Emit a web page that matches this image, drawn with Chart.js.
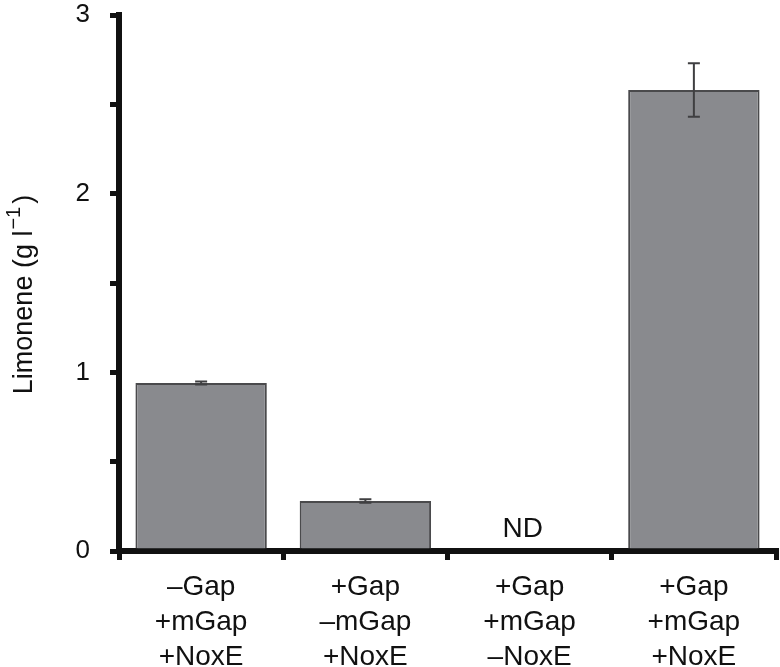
<!DOCTYPE html>
<html>
<head>
<meta charset="utf-8">
<script src="https://cdn.jsdelivr.net/npm/chart.js@4"></script>
<style>
  html, body { margin: 0; padding: 0; background: #fff; }
  #wrap { width: 780px; height: 667px; }
</style>
</head>
<body>
<div id="wrap"><canvas id="limoneneChart" width="780" height="667"></canvas></div>
<script>
const categories = [
    ['\u2013Gap', '+mGap', '+NoxE'],
    ['+Gap', '\u2013mGap', '+NoxE'],
    ['+Gap', '+mGap', '\u2013NoxE'],
    ['+Gap', '+mGap', '+NoxE']
];
const limonene = [0.94, 0.28, 0, 2.58];
const limoneneErr = [0.008, 0.01, 0, 0.15];
const barNotes = ['', '', 'ND', ''];
const yTickLabels = { 0: '0', 1: '1', 2: '2', 3: '3' };
const yTitle = ['Limonene (g l', '\u22121', ')'];   // main, superscript, tail

const FONT = '"Liberation Sans", Arial, Helvetica, sans-serif';

// error bars, ND note and the y title with its superscript
const extrasPlugin = {
    id: 'extras',
    afterDatasetsDraw(chart) {
        const ctx = chart.ctx;
        const x = chart.scales.x;
        const y = chart.scales.y;
        ctx.save();
        ctx.strokeStyle = '#3f3f41';
        ctx.lineWidth = 2;
        limonene.forEach((v, i) => {
            const e = limoneneErr[i];
            if (!e) return;
            const cx = x.getPixelForValue(i);
            const top = y.getPixelForValue(v + e);
            const bot = y.getPixelForValue(v - e);
            ctx.beginPath();
            ctx.moveTo(cx, top);
            ctx.lineTo(cx, bot);
            ctx.moveTo(cx - 6, top);
            ctx.lineTo(cx + 6, top);
            ctx.moveTo(cx - 6, bot);
            ctx.lineTo(cx + 6, bot);
            ctx.stroke();
        });
        ctx.fillStyle = '#111';
        ctx.font = '28px ' + FONT;
        ctx.textAlign = 'center';
        ctx.textBaseline = 'alphabetic';
        barNotes.forEach((note, i) => {
            if (!note) return;
            ctx.fillText(note, x.getPixelForValue(i) - 7, y.getPixelForValue(limonene[i]) - 14);
        });
        ctx.restore();
    },
    afterDraw(chart) {
        const ctx = chart.ctx;
        const area = chart.chartArea;
        const mainFont = '27px ' + FONT;
        const supFont = '20px ' + FONT;
        ctx.save();
        ctx.fillStyle = '#111';
        ctx.textBaseline = 'alphabetic';
        ctx.textAlign = 'left';
        ctx.font = mainFont;
        const w0 = ctx.measureText(yTitle[0]).width;
        const w2 = ctx.measureText(yTitle[2]).width;
        ctx.font = supFont;
        const w1 = ctx.measureText(yTitle[1]).width + 3;
        const total = w0 + w1 + w2;
        const cy = (area.top + area.bottom) / 2 + 12;
        ctx.translate(32, cy);
        ctx.rotate(-Math.PI / 2);
        let pos = -total / 2;
        ctx.font = mainFont;
        ctx.fillText(yTitle[0], pos, 0);
        pos += w0 + 1;
        ctx.font = supFont;
        ctx.fillText(yTitle[1], pos, -12);
        pos += w1;
        ctx.font = mainFont;
        ctx.fillText(yTitle[2], pos, 0);
        ctx.restore();
    }
};

const ctx = document.getElementById('limoneneChart').getContext('2d');
const chart = new Chart(ctx, {
    type: 'bar',
    data: {
        labels: categories,
        datasets: [{
            data: limonene,
            backgroundColor: '#898a8e',
            borderColor: '#4a4a4c',
            borderWidth: 2,
            barPercentage: 0.8,
            categoryPercentage: 1.0
        }]
    },
    options: {
        responsive: false,
        animation: false,
        devicePixelRatio: 1,
        layout: {
            autoPadding: false,
            padding: { top: 15, right: 4, left: 0, bottom: 0 }
        },
        plugins: {
            legend: { display: false },
            tooltip: { enabled: false }
        },
        scales: {
            x: {
                offset: true,
                grid: {
                    display: true,
                    offset: true,
                    drawOnChartArea: false,
                    drawTicks: true,
                    tickLength: 9,
                    lineWidth: 5,
                    color: '#111'
                },
                border: { display: true, color: '#111', width: 6 },
                ticks: {
                    color: '#111',
                    font: { family: FONT, size: 28, lineHeight: 1.25 },
                    padding: 10,
                    maxRotation: 0,
                    autoSkip: false
                },
                afterFit(scale) { scale.height = 116; }
            },
            y: {
                min: 0,
                max: 3,
                grid: {
                    display: true,
                    drawOnChartArea: false,
                    drawTicks: true,
                    tickLength: 9,
                    lineWidth: 5,
                    color: '#111'
                },
                border: { display: true, color: '#111', width: 6 },
                ticks: {
                    stepSize: 0.5,
                    color: '#111',
                    font: { family: FONT, size: 26 },
                    padding: 20,
                    callback: v => yTickLabels[v] !== undefined ? yTickLabels[v] : ''
                },
                afterFit(scale) {
                    scale.width = 119;
                    scale.paddingTop = 0;
                    scale.paddingBottom = 0;
                }
            }
        }
    },
    plugins: [extrasPlugin]
});
</script>
</body>
</html>
